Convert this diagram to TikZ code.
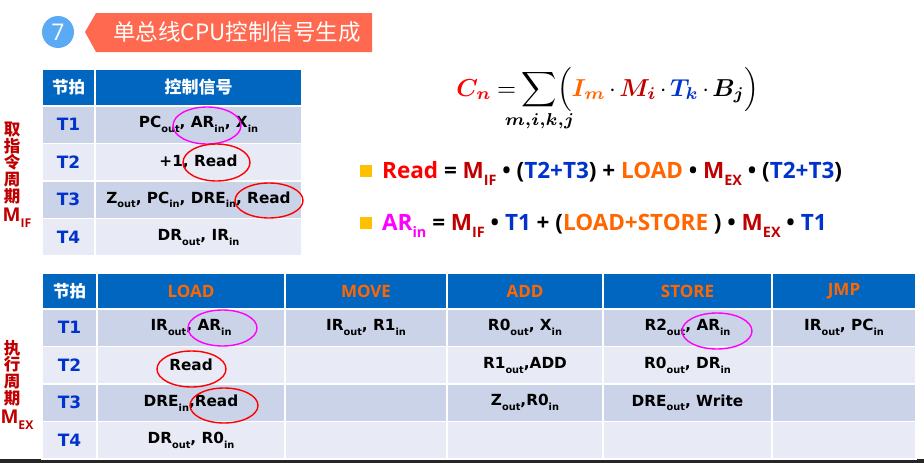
\documentclass[tikz,border=0pt]{standalone}
\usepackage{fontspec}
\usepackage{graphicx}
\usepackage{amsmath,bm,mathtools}
\usetikzlibrary{shapes.geometric}
\setmainfont{DejaVu Sans}
\newfontfamily\cjk{Noto Sans CJK SC}
\newfontfamily\os{Open Sans}
\definecolor{hdr}{RGB}{0,102,192}
\definecolor{rowA}{RGB}{203,211,232}
\definecolor{rowB}{RGB}{232,235,245}
\definecolor{dred}{RGB}{192,0,0}
\definecolor{tblue}{RGB}{0,51,204}
\definecolor{orng}{RGB}{255,102,0}
\definecolor{gold}{RGB}{255,192,0}
\definecolor{coral}{RGB}{255,105,80}
\definecolor{cblue}{RGB}{90,170,245}
\definecolor{mag}{RGB}{255,0,255}
\newcommand{\sbs}[1]{\raisebox{-0.32em}{\scalebox{0.64}{#1}}}
\newcommand{\tcell}[7]{\node[cell, fill=#6, minimum width=#4, minimum height=#5] (#1) at (#2,#3) {#7};}
\newcommand{\tl}[1]{{\color{tblue}\fontsize{17}{18}\selectfont #1}}
\tikzset{
  cell/.style={rectangle, draw=white, line width=1.6pt, inner sep=0pt, font=\fontsize{15.3}{18}\selectfont\bfseries, text=black},
  hcjk/.style={text=white, font=\cjk\fontsize{16.5}{18}\selectfont\bfseries},
  hins/.style={text=orng, font=\os\fontsize{17}{18}\selectfont\bfseries},
  ringmark/.style={ellipse, draw=#1, line width=1.4pt, inner sep=0pt, fill=none},
  side/.style={text=dred, align=center, inner sep=0pt, font=\cjk\fontsize{16.5}{16.8}\selectfont\bfseries},
  sidem/.style={text=dred, inner sep=0pt, font=\os\fontsize{19}{20}\selectfont\bfseries},
  bsq/.style={fill=gold, minimum size=12, inner sep=0pt},
  bline/.style={anchor=base west, inner sep=0pt, font=\os\fontsize{22.5}{24}\selectfont\bfseries},
}
\begin{document}
\begin{tikzpicture}[x=1pt,y=-1pt]
\useasboundingbox (0,0) rectangle (924,463);
\fill[white] (0,0) rectangle (924,463);
\fill[black!85] (0,459) rectangle (924,463);
% title
\node[circle, fill=cblue, minimum size=32, inner sep=0pt, text=white, font=\os\fontsize{23}{24}\selectfont] (num) at (58,32) {7};
\fill[coral] (85,32) -- (96,13) -- (372,13) -- (372,52) -- (96,52) -- cycle;
\node[text=white, font=\cjk\fontsize{22.5}{24}\selectfont, inner sep=0pt] (title) at (237,32) {单总线CPU控制信号生成};
% top table
\tcell{th1}{68.5}{87.5}{53}{37}{hdr}{}
\tcell{th2}{198.5}{87.5}{207}{37}{hdr}{}
\node[hcjk] (th1t) at (th1) {节拍};
\node[hcjk, font=\cjk\fontsize{17}{18}\selectfont\bfseries] (th2t) at (th2) {控制信号};
\tcell{ta1}{68.5}{124.75}{53}{37.5}{rowA}{\tl{T1}}
\tcell{tb1}{198.5}{124.75}{207}{37.5}{rowA}{PC\sbs{out}, AR\sbs{in}, X\sbs{in}}
\tcell{ta2}{68.5}{162.25}{53}{37.5}{rowB}{\tl{T2}}
\tcell{tb2}{198.5}{162.25}{207}{37.5}{rowB}{+1, Read}
\tcell{ta3}{68.5}{199.75}{53}{37.5}{rowA}{\tl{T3}}
\tcell{tb3}{198.5}{199.75}{207}{37.5}{rowA}{Z\sbs{out}, PC\sbs{in}, DRE\sbs{in}, Read}
\tcell{ta4}{68.5}{237.25}{53}{37.5}{rowB}{\tl{T4}}
\tcell{tb4}{198.5}{237.25}{207}{37.5}{rowB}{DR\sbs{out}, IR\sbs{in}}
% side labels
\node[side] (s1) at (12,163) {取\\指\\令\\周\\期};
\node[sidem] (s1m) at (17,218) {M\sbs{IF}};
\node[side] (s2) at (12,373) {执\\行\\周\\期};
\node[sidem] (s2m) at (17,420) {M\sbs{EX}};
% formula
\node[inner sep=0pt, anchor=base] (formula) at (608,96) {\scalebox{2.45}{$\thickmuskip=4mu\medmuskip=2.5mu\displaystyle \textcolor{red}{\bm{C_n}} = \sum\limits_{\mathclap{\bm{m,i,k,j}}} \Bigl(\textcolor{orng}{\bm{I_m}} \cdot \textcolor{dred}{\bm{M_i}}\cdot \textcolor{tblue}{\bm{T_k}} \cdot \bm{B_j}\Bigr)$}};
% bullet lines
\node[bsq] (q1) at (366,171) {};
\node[bline] (l1) at (382,178) {\color{red}Read \color{black}= \color{dred}M\sbs{IF} \color{black}• (\color{tblue}T2+T3\color{black}) + \color{orng}LOAD \color{black}• \color{dred}M\sbs{EX} \color{black}• (\color{tblue}T2+T3\color{black})};
\node[bsq] (q2) at (366,222.5) {};
\node[bline] (l2) at (382,230) {\color{mag}AR\sbs{in} \color{black}= \color{dred}M\sbs{IF} \color{black}• \color{tblue}T1 \color{black}+ (\color{orng}LOAD+STORE \color{black}) • \color{dred}M\sbs{EX} \color{black}• \color{tblue}T1};
% bottom table header
\tcell{bh0}{69.5}{291}{55}{36}{hdr}{}
\node[hcjk] (bh0t) at (bh0) {节拍};
\tcell{bh1}{191}{291}{188}{36}{hdr}{}
\node[hins] (bh1t) at (bh1) {LOAD};
\tcell{bh2}{366}{291}{162}{36}{hdr}{}
\node[hins] (bh2t) at (bh2) {MOVE};
\tcell{bh3}{525}{291}{156}{36}{hdr}{}
\node[hins] (bh3t) at (bh3) {ADD};
\tcell{bh4}{687.5}{291}{169}{36}{hdr}{}
\node[hins] (bh4t) at (bh4) {STORE};
\tcell{bh5}{844}{291}{144}{36}{hdr}{}
\node[hins] (bh5t) at (bh5) {JMP};
% row T1
\tcell{r1c0}{69.5}{327.75}{55}{37.5}{rowA}{\tl{T1}}
\tcell{r1c1}{191}{327.75}{188}{37.5}{rowA}{IR\sbs{out}, AR\sbs{in}}
\tcell{r1c2}{366}{327.75}{162}{37.5}{rowA}{IR\sbs{out}, R1\sbs{in}}
\tcell{r1c3}{525}{327.75}{156}{37.5}{rowA}{R0\sbs{out}, X\sbs{in}}
\tcell{r1c4}{687.5}{327.75}{169}{37.5}{rowA}{R2\sbs{out}, AR\sbs{in}}
\tcell{r1c5}{844}{327.75}{144}{37.5}{rowA}{IR\sbs{out}, PC\sbs{in}}
% row T2
\tcell{r2c0}{69.5}{365.25}{55}{37.5}{rowB}{\tl{T2}}
\tcell{r2c1}{191}{365.25}{188}{37.5}{rowB}{Read}
\tcell{r2c2}{366}{365.25}{162}{37.5}{rowB}{}
\tcell{r2c3}{525}{365.25}{156}{37.5}{rowB}{R1\sbs{out},ADD}
\tcell{r2c4}{687.5}{365.25}{169}{37.5}{rowB}{R0\sbs{out}, DR\sbs{in}}
\tcell{r2c5}{844}{365.25}{144}{37.5}{rowB}{}
% row T3
\tcell{r3c0}{69.5}{402.75}{55}{37.5}{rowA}{\tl{T3}}
\tcell{r3c1}{191}{402.75}{188}{37.5}{rowA}{DRE\sbs{in},Read}
\tcell{r3c2}{366}{402.75}{162}{37.5}{rowA}{}
\tcell{r3c3}{525}{402.75}{156}{37.5}{rowA}{Z\sbs{out},R0\sbs{in}}
\tcell{r3c4}{687.5}{402.75}{169}{37.5}{rowA}{DRE\sbs{out}, Write}
\tcell{r3c5}{844}{402.75}{144}{37.5}{rowA}{}
% row T4
\tcell{r4c0}{69.5}{440.25}{55}{37.5}{rowB}{\tl{T4}}
\tcell{r4c1}{191}{440.25}{188}{37.5}{rowB}{DR\sbs{out}, R0\sbs{in}}
\tcell{r4c2}{366}{440.25}{162}{37.5}{rowB}{}
\tcell{r4c3}{525}{440.25}{156}{37.5}{rowB}{}
\tcell{r4c4}{687.5}{440.25}{169}{37.5}{rowB}{}
\tcell{r4c5}{844}{440.25}{144}{37.5}{rowB}{}
% ellipses
\node[ringmark=mag, minimum width=68, minimum height=37] (e1) at (207,125.5) {};
\node[ringmark=red, minimum width=67, minimum height=37] (e2) at (216.5,162.5) {};
\node[ringmark=red, minimum width=68, minimum height=35] (e3) at (269,200.5) {};
\node[ringmark=mag, minimum width=69, minimum height=36] (e4) at (222.5,328) {};
\node[ringmark=red, minimum width=69, minimum height=36] (e5) at (191.5,369) {};
\node[ringmark=red, minimum width=68, minimum height=35] (e6) at (224,405.5) {};
\node[ringmark=mag, minimum width=70, minimum height=36] (e7) at (717,331) {};
\end{tikzpicture}
\end{document}
